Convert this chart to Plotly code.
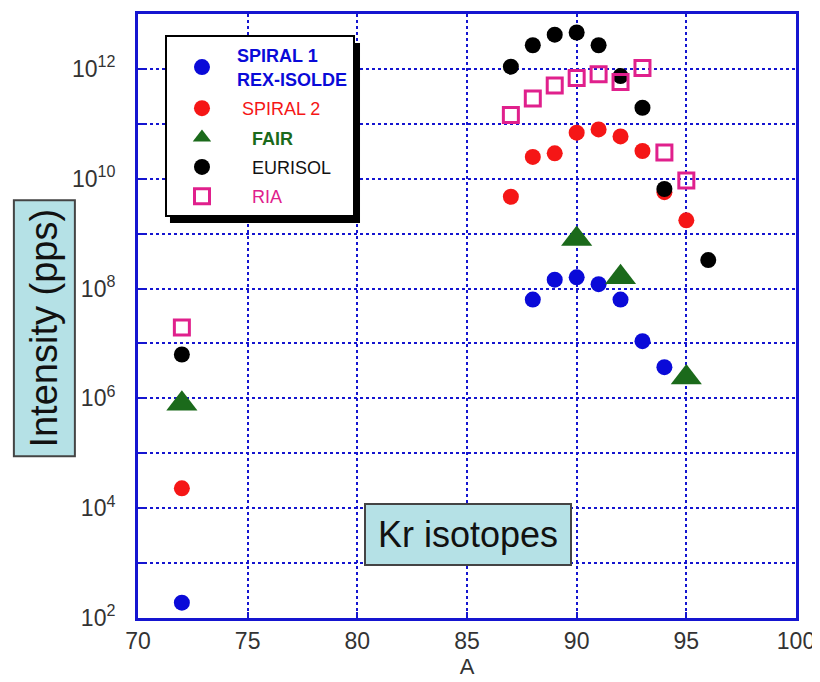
import plotly.graph_objects as go

# ---- data ----
A_spiral1 = [72, 88, 89, 90, 91, 92, 93, 94]
I_spiral1 = [1.9e2, 6.3e7, 1.45e8, 1.6e8, 1.2e8, 6.3e7, 1.1e7, 3.7e6]

A_spiral2 = [72, 87, 88, 89, 90, 91, 92, 93, 94, 95]
I_spiral2 = [2.3e4, 4.7e9, 2.5e10, 2.9e10, 6.9e10, 7.9e10, 5.9e10, 3.2e10, 5.7e9, 1.75e9]

A_fair = [72, 90, 92, 95]
I_fair = [8e5, 8e8, 1.6e8, 2.4e6]

A_eurisol = [72, 87, 88, 89, 90, 91, 92, 93, 94, 96]
I_eurisol = [6.3e6, 1.1e12, 2.7e12, 4.2e12, 4.6e12, 2.7e12, 7.4e11, 1.96e11, 6.5e9, 3.3e8]

A_ria = [72, 87, 88, 89, 90, 91, 92, 93, 94, 95]
I_ria = [1.95e7, 1.45e11, 2.9e11, 5e11, 6.8e11, 8e11, 5.8e11, 1.04e12, 3e10, 9.3e9]

x_ticks = [70, 75, 80, 85, 90, 95, 100]
y_tickvals = [1e2, 1e3, 1e4, 1e5, 1e6, 1e7, 1e8, 1e9, 1e10, 1e11, 1e12, 1e13]
y_ticktext = ["10<sup>2</sup>", "", "10<sup>4</sup>", "", "10<sup>6</sup>", "",
              "10<sup>8</sup>", "", "10<sup>10</sup>", "", "10<sup>12</sup>", ""]

BLUE = "#0a0ad8"
RED = "#f51616"
GREEN = "#1b6a1b"
PINK = "#e0208c"
AXIS = "#1515d0"

fig = go.Figure()
fig.add_trace(go.Scatter(
    x=A_spiral1, y=I_spiral1, mode="markers", legendgroup="a",
    name="<b><span style='color:%s'>SPIRAL 1<br>REX-ISOLDE</span></b>" % BLUE,
    marker=dict(symbol="circle", size=16, color=BLUE)))
fig.add_trace(go.Scatter(
    x=A_spiral2, y=I_spiral2, mode="markers", legendgroup="b",
    name="<span style='color:%s'> SPIRAL 2</span>" % RED,
    marker=dict(symbol="circle", size=16, color=RED)))
fig.add_trace(go.Scatter(
    x=A_fair, y=I_fair, mode="markers", legendgroup="c",
    name="<b><span style='color:%s'>   FAIR</span></b>" % GREEN,
    marker=dict(symbol="triangle-up", size=27, color=GREEN)))
fig.add_trace(go.Scatter(
    x=A_eurisol, y=I_eurisol, mode="markers", legendgroup="d",
    name="<span style='color:#111'>   EURISOL</span>",
    marker=dict(symbol="circle", size=16, color="black")))
fig.add_trace(go.Scatter(
    x=A_ria, y=I_ria, mode="markers", legendgroup="e",
    name="<span style='color:%s'>   RIA</span>" % PINK,
    marker=dict(symbol="square-open", size=15, color=PINK, line=dict(width=3, color=PINK))))

fig.update_layout(
    width=812, height=674,
    margin=dict(l=130, r=24, t=3, b=64),
    paper_bgcolor="white", plot_bgcolor="white",
    font=dict(family="Liberation Sans, Arial, sans-serif", color="#333"),
    legend=dict(x=0.041, y=0.965, xanchor="left", yanchor="top",
                bgcolor="white", bordercolor="black", borderwidth=2,
                font=dict(size=18), tracegroupgap=3, itemsizing="trace",
                itemwidth=60),
    xaxis=dict(range=[70, 100], tickvals=x_ticks, ticks="inside", ticklen=6,
               tickcolor=AXIS, tickwidth=2,
               showline=True, linecolor=AXIS, linewidth=3, mirror=True,
               showgrid=True, gridcolor=AXIS, gridwidth=2, griddash="dot",
               zeroline=False, tickfont=dict(size=23, color="#333"),
               title=dict(text="A", font=dict(size=22, color="#333"), standoff=6)),
    yaxis=dict(type="log", range=[2, 13], tickvals=y_tickvals, ticktext=y_ticktext,
               ticks="inside", ticklen=6, tickcolor=AXIS, tickwidth=2,
               showline=True, linecolor=AXIS, linewidth=3, mirror=True,
               showgrid=True, gridcolor=AXIS, gridwidth=2, griddash="dot",
               zeroline=False, tickfont=dict(size=23, color="#333"),
               ticklabelstandoff=15),
)

# legend shadow
fig.add_shape(type="rect", xref="paper", yref="paper",
              x0=0.0486, x1=0.3374, y0=0.654, y1=0.952,
              fillcolor="black", line=dict(width=0), layer="above")

# y-axis title box
fig.add_annotation(xref="paper", yref="paper", x=-0.142, y=0.479,
                   xanchor="center", yanchor="middle",
                   text="Intensity (pps)", textangle=-90, showarrow=False,
                   width=250, height=55,
                   font=dict(size=38, color="#111"),
                   bgcolor="#b5e1e6", bordercolor="#444", borderwidth=2, borderpad=2)
# Kr isotopes box
fig.add_annotation(xref="paper", yref="paper", x=0.5015, y=0.1376,
                   xanchor="center", yanchor="middle",
                   text="Kr isotopes", showarrow=False,
                   width=200, height=55,
                   font=dict(size=36, color="#111"),
                   bgcolor="#b5e1e6", bordercolor="#444", borderwidth=2, borderpad=2)

fig.write_html("out.html")
